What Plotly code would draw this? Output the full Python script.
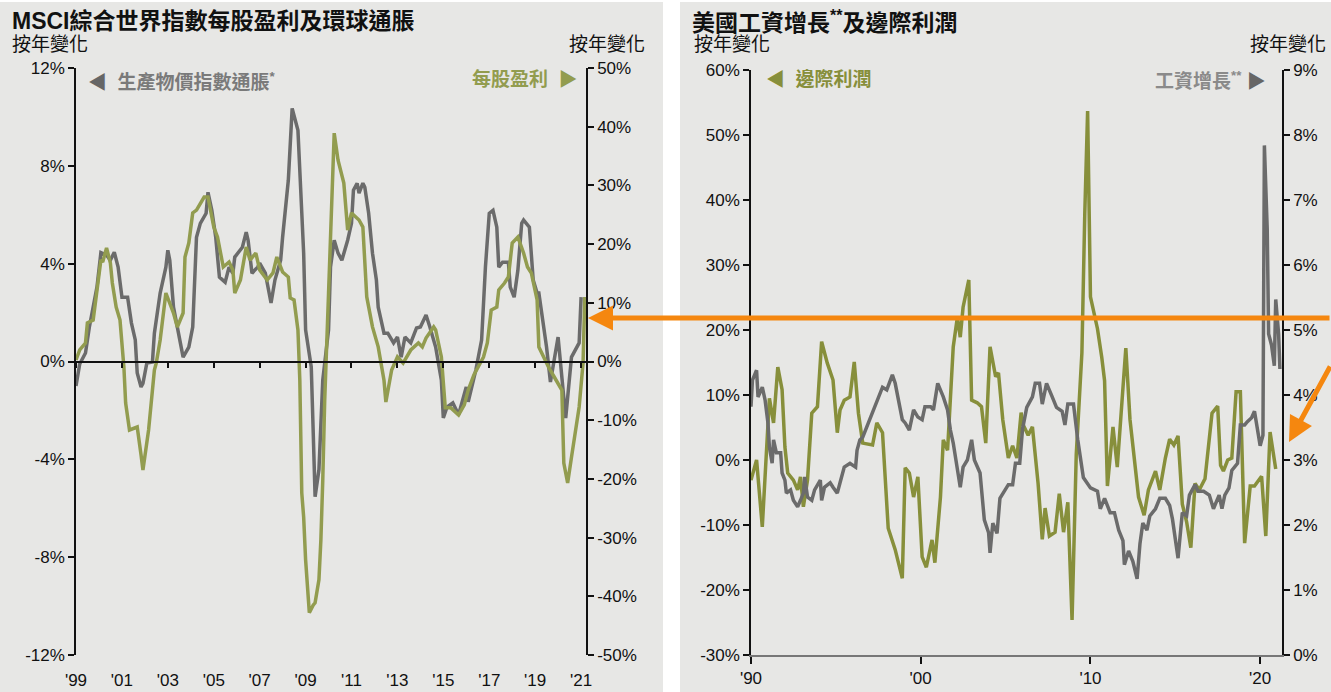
import plotly.graph_objects as go

W, H = 1331, 692

# ---------------- Left chart data (MSCI ACWI EPS vs global PPI) ----------------
ppi_dates = ["1999-01","1999-03","1999-06","1999-08","1999-12","2000-02","2000-05","2000-07","2000-09","2000-11",
 "2001-01","2001-04","2001-06","2001-08","2001-09","2001-11","2001-12","2002-02","2002-05","2002-06","2002-09","2002-12",
 "2003-01","2003-02","2003-04","2003-06","2003-09","2003-12","2004-02","2004-04","2004-06","2004-09","2004-10","2004-12",
 "2005-02","2005-04","2005-07","2005-09","2005-11","2005-12","2006-04","2006-06","2006-07","2006-09","2006-12",
 "2007-01","2007-04","2007-07","2007-09","2007-12","2008-01","2008-04","2008-06","2008-09","2008-10","2008-12",
 "2009-01","2009-04","2009-05","2009-06","2009-08","2009-10","2010-01","2010-02","2010-04","2010-06","2010-08","2010-11",
 "2011-01","2011-02","2011-04","2011-05","2011-07","2011-08","2011-10","2011-12","2012-02","2012-03","2012-06","2012-08","2012-11",
 "2013-01","2013-03","2013-05","2013-08","2013-11","2014-01","2014-04","2014-06","2014-09","2014-12",
 "2015-01","2015-03","2015-06","2015-09","2016-01","2016-02","2016-06","2016-09","2016-11",
 "2017-01","2017-03","2017-05","2017-06","2017-08","2017-11","2017-12","2018-02","2018-04","2018-06","2018-07","2018-10","2018-12",
 "2019-02","2019-03","2019-07","2019-09","2020-01","2020-05","2020-08","2020-12","2021-01"]
ppi_values = [-1.0,-0.1,0.35,1.4,3.05,4.45,4.35,4.14,4.47,3.86,
 2.63,2.63,1.57,0.88,-0.47,-1.04,-0.9,-0.06,-0.02,1.16,2.8,3.86,
 4.55,4.14,2.22,1.41,0.18,0.59,1.41,5.08,5.65,6.06,6.92,6.18,
 5.08,3.45,3.24,3.86,3.61,4.27,4.67,5.29,4.96,3.61,3.86,
 4.02,3.61,2.39,3.33,4.14,5.08,7.41,10.35,9.45,7.69,4.43,
 1.29,-0.22,-2.8,-5.53,-4.43,-0.76,1.29,3.86,4.96,4.43,4.14,4.96,
 5.65,7.0,7.29,6.88,7.29,7.12,6.06,4.43,3.33,2.22,1.16,1.16,0.76,
 1.0,0.18,1.0,0.76,1.37,1.41,1.9,1.41,0.59,-0.76,
 -2.31,-1.86,-1.69,-2.18,-1.04,-1.65,-0.35,0.88,3.86,
 6.06,6.18,5.49,3.86,4.06,4.06,3.04,2.63,3.73,5.65,5.78,5.49,3.33,
 2.8,2.8,0.59,-0.84,1.0,-2.31,0.18,0.76,2.63]

eps_dates = ["1999-01","1999-03","1999-06","1999-07","1999-10","1999-12","2000-02","2000-03","2000-05","2000-07","2000-08","2000-10","2000-12",
 "2001-02","2001-03","2001-05","2001-09","2001-11","2001-12","2002-03","2002-05","2002-06","2002-07","2002-09","2002-12",
 "2003-04","2003-06","2003-09","2003-10","2003-12","2004-02","2004-04","2004-08","2004-10",
 "2005-01","2005-03","2005-06","2005-09","2005-11","2005-12","2006-03","2006-06","2006-08","2006-11",
 "2007-01","2007-05","2007-08","2007-10","2008-01","2008-04","2008-05","2008-07","2008-09","2008-10","2008-11","2008-12",
 "2009-01","2009-03","2009-05","2009-06","2009-08","2009-09","2009-10","2009-11",
 "2010-01","2010-03","2010-04","2010-06","2010-07","2010-09","2010-11","2011-01","2011-05","2011-07","2011-09","2011-12",
 "2012-03","2012-06","2012-07","2012-10","2013-01","2013-04","2013-08","2013-12","2014-02","2014-04","2014-08","2014-09","2014-12",
 "2015-01","2015-02","2015-05","2015-09","2015-12","2016-02","2016-05","2016-09","2016-10","2016-12",
 "2017-02","2017-05","2017-06","2017-09","2017-11","2018-01","2018-04","2018-07","2018-09","2018-11",
 "2019-02","2019-03","2019-06","2019-08","2019-11","2020-03","2020-04","2020-06","2020-08","2020-09","2020-12","2021-02","2021-03"]
eps_values = [0.26,1.96,3.15,6.56,7.07,11.67,17.29,16.95,19.34,16.78,13.37,9.28,7.07,
 -0.94,-7.07,-11.67,-11.16,-15.93,-18.48,-11.67,-4.86,-1.45,-0.26,3.66,11.67,
 8.26,5.88,8.26,17.8,20.19,25.3,25.8,28.02,28.02,
 22.91,21.21,16.1,16.95,15.59,11.67,13.88,19.5,17.29,18.48,
 15.59,13.88,15.08,17.8,15.25,14.39,10.82,10.48,5.37,-3.15,-22.4,-26.5,
 -33.8,-42.8,-41.5,-41.1,-37.2,-30.4,-20.2,-6.6,
 11.67,28.0,38.9,34.3,33.1,30.4,22.4,25.3,24.1,22.9,11.0,5.9,
 2.5,-3.2,-6.9,-1.45,0.77,-0.26,1.96,3.15,2.47,4.0,5.88,5.37,0.77,
 -3.15,-7.9,-7.9,-9.1,-7.4,-4.86,-2.3,0.26,0.77,3.15,
 8.77,9.28,12.2,13.37,14.39,20.19,21.2,18.48,16.1,15.08,
 10.48,2.47,0.26,-0.94,-2.64,-4.86,-17.3,-20.7,-16.3,-13.9,-7.75,-0.26,11.0]

left_ticks = ["1999-01-01","2001-01-01","2003-01-01","2005-01-01","2007-01-01","2009-01-01",
              "2011-01-01","2013-01-01","2015-01-01","2017-01-01","2019-01-01","2021-01-01"]
left_ticktext = ["'99","'01","'03","'05","'07","'09","'11","'13","'15","'17","'19","'21"]
ppi_axis = [-12, -8, -4, 0, 4, 8, 12]
eps_axis = [-50, -40, -30, -20, -10, 0, 10, 20, 30, 40, 50]

# ---------------- Right chart data (US wage growth vs margins) ----------------
wage_dates = ["1990-01","1990-02","1990-05","1990-06","1990-09","1990-11","1991-01","1991-02","1991-04","1991-05","1991-07","1991-10","1991-11",
 "1992-01","1992-02","1992-05","1992-07","1992-10","1992-12","1993-02","1993-03","1993-05","1993-08","1993-10",
 "1994-02","1994-03","1994-05","1994-09","1994-11","1995-02","1995-04","1995-07","1995-11",
 "1996-03","1996-04","1996-06","1996-08","1996-11","1997-01","1997-03","1997-06","1997-10",
 "1998-01","1998-03","1998-05","1998-07","1998-09","1998-12","1999-02","1999-05","1999-08","1999-11",
 "2000-02","2000-04","2000-08","2000-10","2001-01","2001-03","2001-05","2001-08","2001-10","2001-12",
 "2002-03","2002-05","2002-07","2002-10","2003-01","2003-03","2003-07","2003-10","2004-01","2004-02","2004-04","2004-07","2004-09",
 "2005-01","2005-03","2005-06","2005-08","2005-11","2006-01","2006-04","2006-08","2006-10",
 "2007-01","2007-03","2007-06","2007-10","2008-01","2008-05","2008-07","2008-09","2009-01","2009-04","2009-08",
 "2010-01","2010-06","2010-08","2010-11","2011-03","2011-06","2011-09","2011-12",
 "2012-01","2012-04","2012-07","2012-10","2012-12","2013-02","2013-05","2013-07","2013-11",
 "2014-02","2014-06","2014-09","2014-11","2015-01","2015-03","2015-06","2015-09","2015-11",
 "2016-03","2016-05","2016-09","2017-01","2017-04","2017-08","2017-10","2017-12",
 "2018-03","2018-05","2018-09","2018-11","2019-02","2019-04","2019-07","2019-09",
 "2020-01","2020-03","2020-04","2020-06","2020-07","2020-09","2020-11","2020-12","2021-02","2021-03"]
wage_values = [3.82,4.23,4.38,3.97,4.12,3.92,3.57,3.2,2.95,3.31,3.11,3.11,2.8,
 2.69,2.49,2.54,2.38,2.28,2.38,2.49,2.74,2.43,2.38,2.54,
 2.69,2.38,2.58,2.65,2.58,2.49,2.65,2.89,2.95,
 2.89,3.15,3.31,3.35,3.51,3.62,3.72,3.88,4.12,
 4.08,4.18,4.31,4.18,3.97,3.62,3.57,3.46,3.77,3.66,
 3.62,3.82,3.82,3.77,4.18,4.08,3.97,3.77,3.46,3.26,
 2.8,2.58,2.89,3.0,3.31,3.0,2.8,2.08,1.88,1.57,2.03,1.87,2.41,
 2.57,2.62,2.62,2.95,2.95,3.48,3.81,3.97,4.18,
 4.18,3.86,4.18,3.97,3.81,3.75,3.54,3.86,3.86,3.32,2.73,
 2.57,2.52,2.25,2.41,2.19,2.19,1.92,1.76,
 1.39,1.6,1.44,1.17,1.71,2.03,1.92,2.14,2.25,
 2.41,2.41,2.3,2.09,1.76,1.49,2.19,2.14,2.46,
 2.62,2.52,2.52,2.46,2.25,2.46,2.25,2.46,
 2.57,2.84,2.95,3.54,3.54,3.59,3.65,3.75,
 3.22,3.38,7.84,6.55,4.94,4.77,4.45,5.47,4.94,4.4]

margin_dates = ["1990-01","1990-05","1990-09","1991-02","1991-05","1991-08","1991-11","1992-01","1992-03","1992-07","1992-10","1992-12",
 "1993-02","1993-05","1993-08","1993-12","1994-03","1994-07","1994-11","1995-02","1995-04","1995-07","1995-11",
 "1996-02","1996-05","1996-08","1997-03","1997-06","1997-10","1998-02","1998-07","1998-12",
 "1999-02","1999-05","1999-08","1999-11","2000-02","2000-05","2000-09","2000-11","2001-03","2001-05","2001-08","2001-12",
 "2002-03","2002-05","2002-07","2002-11","2003-01","2003-05","2003-08","2003-11","2004-02","2004-06","2004-08","2004-11",
 "2005-03","2005-06","2005-09","2005-12","2006-01","2006-05","2006-08","2006-12","2007-03","2007-05","2007-08","2007-12",
 "2008-03","2008-06","2008-09","2008-12","2009-03","2009-07","2009-09","2009-11","2010-01","2010-06","2010-09","2010-11",
 "2011-01","2011-05","2011-08","2011-11","2012-02","2012-05","2012-11","2013-03","2013-06","2013-11",
 "2014-02","2014-06","2014-09","2014-12","2015-03","2015-06","2015-09","2015-12","2016-03","2016-06","2016-10",
 "2017-03","2017-07","2017-09","2017-11","2018-02","2018-05","2018-08","2018-11","2019-02","2019-06","2019-09",
 "2020-02","2020-05","2020-08","2020-12"]
margin_values = [-3.1,0.0,-10.3,9.5,5.7,14.3,10.8,2.0,-2.0,-3.1,-4.6,-2.6,
 -7.2,-3.1,7.2,8.2,18.2,14.9,12.3,4.2,7.7,9.2,9.7,
 15.1,7.2,2.6,2.3,5.7,4.2,-10.5,-13.8,-18.2,
 -1.2,-2.0,-5.7,-2.6,-14.9,-16.5,-12.3,-15.8,-5.7,3.1,1.5,17.4,
 22.0,18.9,23.5,27.7,9.2,8.8,8.2,2.6,17.4,12.8,13.4,6.2,
 0.3,2.2,0.3,7.3,5.6,3.8,5.1,-3.6,-12.2,-7.4,-11.7,-11.1,
 -5.2,-11.1,-6.5,-24.6,0.8,16.5,38.0,53.7,25.1,20.2,15.8,12.2,
 -4.0,5.1,-1.1,8.3,17.2,6.2,-5.7,-8.5,-4.6,-1.7,
 -4.6,0.3,3.2,2.3,3.7,-6.8,-9.5,-13.5,-3.6,-4.6,-2.9,
 7.2,8.3,-0.8,-1.7,0.0,0.3,10.5,10.5,-12.8,-4.0,-4.0,
 -2.5,-11.7,4.3,-1.4]

right_ticks = ["1990-01-01","2000-01-01","2010-01-01","2020-01-01"]
right_ticktext = ["'90", "'00", "'10", "'20"]
margin_axis = [-30, -20, -10, 0, 10, 20, 30, 40, 50, 60]
wage_axis = [0, 1, 2, 3, 4, 5, 6, 7, 8, 9]

# ---------------- Styling ----------------
FONT = "Liberation Sans, Arial, Noto Sans CJK TC, sans-serif"
GRAY = "#6b6b6b"
GREEN_L = "#929c4f"
GREEN_R = "#878f3b"
ORANGE = "#f5870f"
PANEL = "#e7e7e5"

def px(x):
    return x / W

def py(y):
    return 1 - y / H

fig = go.Figure()

fig.add_trace(go.Scatter(x=ppi_dates, y=ppi_values, xaxis="x", yaxis="y", mode="lines",
                         line=dict(color=GRAY, width=3.5), showlegend=False, hoverinfo="skip"))
fig.add_trace(go.Scatter(x=eps_dates, y=eps_values, xaxis="x", yaxis="y2", mode="lines",
                         line=dict(color=GREEN_L, width=3.5), showlegend=False, hoverinfo="skip"))
fig.add_trace(go.Scatter(x=margin_dates, y=margin_values, xaxis="x2", yaxis="y3", mode="lines",
                         line=dict(color=GREEN_R, width=3.5), showlegend=False, hoverinfo="skip"))
fig.add_trace(go.Scatter(x=wage_dates, y=wage_values, xaxis="x2", yaxis="y4", mode="lines",
                         line=dict(color=GRAY, width=3.5), showlegend=False, hoverinfo="skip"))
# invisible trace that activates the zero-line axis of the left chart
fig.add_trace(go.Scatter(x=[left_ticks[0]], y=[0], xaxis="x3", yaxis="y", mode="markers",
                         marker=dict(opacity=0), showlegend=False, hoverinfo="skip"))

tickfont = dict(family=FONT, size=17, color="#111")
L_dom_x = [px(76), px(586)]
L_dom_y = [py(655), py(68)]
R_dom_x = [px(751), px(1282)]
R_dom_y = [py(655), py(70)]

common = dict(showgrid=False, zeroline=False, automargin=False)

fig.update_layout(
    template="none",
    width=W, height=H, autosize=False,
    margin=dict(l=0, r=0, t=0, b=0, pad=0),
    paper_bgcolor="white",
    plot_bgcolor="rgba(0,0,0,0)",
    font=dict(family=FONT, size=15, color="#111"),
    xaxis=dict(domain=L_dom_x, type="date", range=["1999-01-01", "2021-03-20"], anchor="y",
               tickvals=left_ticks, ticktext=left_ticktext, ticks="outside", ticklen=10,
               tickcolor="rgba(0,0,0,0)", showline=False, tickfont=tickfont, **common),
    xaxis3=dict(overlaying="x", type="date", range=["1999-01-01", "2021-03-20"], anchor="free",
                position=py(361.5), tickvals=left_ticks, ticks="outside", ticklen=6,
                tickcolor="#111", tickwidth=1.5, showline=True, linecolor="#111", linewidth=1.5,
                showticklabels=False, **common),
    yaxis=dict(domain=L_dom_y, range=[-12, 12], anchor="x", tickvals=ppi_axis,
               ticktext=[f"{v}%" for v in ppi_axis], ticks="outside", ticklen=6,
               tickcolor="#111", tickwidth=1.5, showline=True, linecolor="#111", linewidth=1.5,
               tickfont=tickfont, **common),
    yaxis2=dict(overlaying="y", side="right", range=[-50, 50], anchor="x", tickvals=eps_axis,
                ticktext=[f"{v}%" for v in eps_axis], ticks="outside", ticklen=6,
                tickcolor="#111", tickwidth=1.5, showline=True, linecolor="#111", linewidth=1.5,
                tickfont=tickfont, **common),
    xaxis2=dict(domain=R_dom_x, type="date", range=["1990-01-01", "2021-04-15"], anchor="y3",
                tickvals=right_ticks, ticktext=right_ticktext, ticks="outside", ticklen=7,
                tickcolor="#111", tickwidth=1.5, showline=True, linecolor="#777", linewidth=2,
                tickfont=tickfont, **common),
    yaxis3=dict(domain=R_dom_y, range=[-30, 60], anchor="x2", tickvals=margin_axis,
                ticktext=[f"{v}%" for v in margin_axis], ticks="outside", ticklen=6,
                tickcolor="#111", tickwidth=1.5, showline=True, linecolor="#111", linewidth=1.5,
                tickfont=tickfont, **common),
    yaxis4=dict(overlaying="y3", side="right", range=[0, 9], anchor="x2", tickvals=wage_axis,
                ticktext=[f"{v}%" for v in wage_axis], ticks="outside", ticklen=6,
                tickcolor="#111", tickwidth=1.5, showline=True, linecolor="#111", linewidth=1.5,
                tickfont=tickfont, **common),
)

# Panel backgrounds
fig.add_shape(type="rect", xref="paper", yref="paper", x0=0, x1=px(663), y0=0, y1=py(2),
              fillcolor=PANEL, line=dict(width=0), layer="below")
fig.add_shape(type="rect", xref="paper", yref="paper", x0=px(680), x1=1, y0=0, y1=py(2),
              fillcolor=PANEL, line=dict(width=0), layer="below")

def text(x, y, s, size=15, color="#111", bold=False, xanchor="left"):
    if bold:
        s = f"<b>{s}</b>"
    fig.add_annotation(x=px(x), y=py(y), xref="paper", yref="paper", text=s, showarrow=False,
                       xanchor=xanchor, yanchor="middle",
                       font=dict(family=FONT, size=size, color=color))

# Titles
text(10, 21, "MSCI綜合世界指數每股盈利及環球通脹", size=23, bold=True)
text(10, 45, "按年變化", size=19)
text(647, 45, "按年變化", size=19, xanchor="right")
text(690, 21, "美國工資增長<sup>**</sup>及邊際利潤", size=23, bold=True)
text(692, 45, "按年變化", size=19)
text(1328, 45, "按年變化", size=19, xanchor="right")

# Series labels
text(86, 81, "<span style='color:#666666'>◀</span>  生產物價指數通脹<sup>*</sup>", size=19, color="#7a7a7a", bold=True)
text(580, 80, "每股盈利  <span style='color:" + GREEN_L + "'>▶</span>", size=19, color=GREEN_L, bold=True, xanchor="right")
text(764, 80, "◀  邊際利潤", size=19, color=GREEN_R, bold=True)
text(1268, 80, "工資增長<sup>**</sup> <span style='color:#666666'>▶</span>", size=19, color="#8a8a8a", bold=True, xanchor="right")

# Orange arrows
fig.add_annotation(x=px(588), y=py(318), xref="paper", yref="paper", text="", showarrow=True,
                   ax=W - 588 + 10, ay=0, arrowhead=2, arrowsize=1, arrowwidth=5,
                   arrowcolor=ORANGE, standoff=0)
fig.add_annotation(x=px(1289), y=py(442), xref="paper", yref="paper", text="", showarrow=True,
                   ax=48, ay=-77, arrowhead=2, arrowsize=1, arrowwidth=5,
                   arrowcolor=ORANGE, standoff=0)

fig.write_html("out.html", config={"displayModeBar": False},
               post_script="document.body.style.margin='0';document.body.style.overflow='hidden';")
